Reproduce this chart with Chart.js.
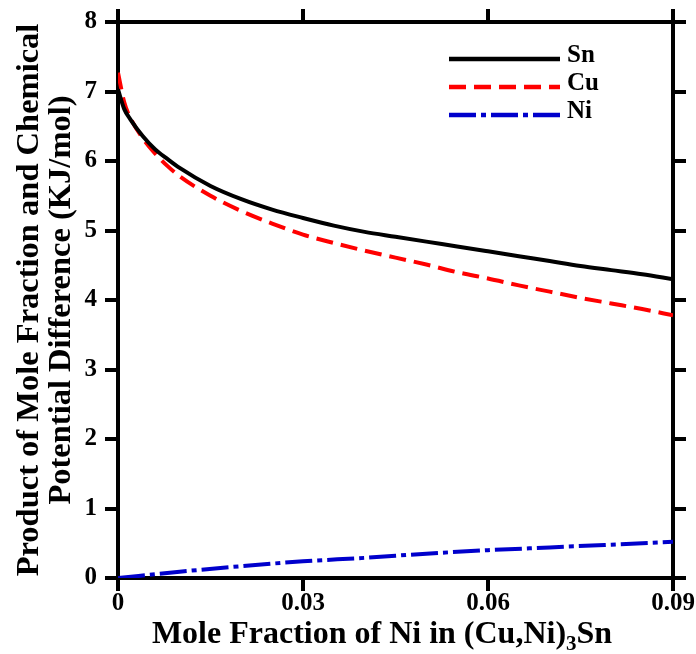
<!DOCTYPE html>
<html><head><meta charset="utf-8">
<script src="https://cdn.jsdelivr.net/npm/chart.js@4/dist/chart.umd.min.js"></script>
<style>html,body{margin:0;padding:0;background:#fff;}</style>
</head><body>
<canvas id="c" width="696" height="654" style="width:696px;height:654px;display:block"></canvas>
<script>
// ---- data ----
const xValues   = [0, 0.001, 0.002, 0.004, 0.006, 0.008, 0.01, 0.015, 0.02, 0.025, 0.03, 0.035, 0.04, 0.045, 0.05, 0.055, 0.06, 0.065, 0.07, 0.075, 0.08, 0.085, 0.09];
const snValues  = [7.03, 6.75, 6.60, 6.36, 6.17, 6.03, 5.90, 5.64, 5.45, 5.30, 5.18, 5.07, 4.98, 4.91, 4.84, 4.77, 4.70, 4.63, 4.56, 4.49, 4.43, 4.37, 4.30];
const cuValues  = [7.27, 6.85, 6.62, 6.33, 6.11, 5.93, 5.78, 5.50, 5.28, 5.10, 4.94, 4.82, 4.71, 4.61, 4.51, 4.40, 4.31, 4.21, 4.12, 4.03, 3.95, 3.87, 3.78];
const niXValues = [0, 0.01, 0.02, 0.03, 0.04, 0.05, 0.06, 0.07, 0.08, 0.09];
const niValues  = [0.00, 0.09, 0.17, 0.24, 0.29, 0.35, 0.40, 0.44, 0.48, 0.52];
const seriesNames = ['Sn', 'Cu', 'Ni'];
const xTickValues = [0, 0.03, 0.06, 0.09];
const xTickLabels = ['0', '0.03', '0.06', '0.09'];
const yTickValues = [0, 1, 2, 3, 4, 5, 6, 7, 8];
const yTickLabels = ['0', '1', '2', '3', '4', '5', '6', '7', '8'];
const yTitle = ['Product of Mole Fraction and Chemical', 'Potential Difference (KJ/mol)'];
const xTitleParts = ['Mole Fraction of Ni in (Cu,Ni)', '3', 'Sn'];

const FONT = "'Liberation Serif', 'Times New Roman', serif";
const pts = (xs, ys) => xs.map((x, i) => ({x: x, y: ys[i]}));

const legendPlugin = {
  id: 'innerLegend',
  afterDraw(chart) {
    const ctx = chart.ctx;
    const ys = [59, 87, 115];
    ctx.save();
    chart.data.datasets.forEach((ds, i) => {
      ctx.beginPath();
      ctx.strokeStyle = ds.borderColor;
      ctx.lineWidth = 4.5;
      ctx.lineCap = 'butt';
      ctx.setLineDash(ds.borderDash || []);
      ctx.moveTo(449, ys[i]);
      ctx.lineTo(560, ys[i]);
      ctx.stroke();
      ctx.setLineDash([]);
      ctx.fillStyle = '#000';
      ctx.font = "bold 25px " + FONT;
      ctx.textBaseline = 'middle';
      ctx.textAlign = 'left';
      ctx.fillText(ds.label, 567, ys[i] - 3);
    });
    ctx.restore();
  }
};

const xTitlePlugin = {
  id: 'xTitle',
  afterDraw(chart) {
    const ctx = chart.ctx;
    ctx.save();
    ctx.fillStyle = '#000';
    ctx.textBaseline = 'alphabetic';
    ctx.textAlign = 'left';
    const big = "bold 32px " + FONT, small = "bold 21px " + FONT;
    ctx.font = big; const w1 = ctx.measureText(xTitleParts[0]).width;
    ctx.font = small; const w2 = ctx.measureText(xTitleParts[1]).width;
    ctx.font = big; const w3 = ctx.measureText(xTitleParts[2]).width;
    const total = w1 + w2 + w3;
    let x = 382 - total / 2;
    const base = 643;
    ctx.font = big; ctx.fillText(xTitleParts[0], x, base); x += w1;
    ctx.font = small; ctx.fillText(xTitleParts[1], x, base + 7); x += w2;
    ctx.font = big; ctx.fillText(xTitleParts[2], x, base);
    ctx.restore();
  }
};

const tickFont = {family: FONT, size: 25, weight: 'bold', lineHeight: 1.0};
const gridOpts = {drawOnChartArea: false, drawTicks: true, tickLength: 13, tickWidth: 4, tickColor: '#000', color: '#000', lineWidth: 4};
const borderOpts = {display: true, color: '#000', width: 4};

new Chart(document.getElementById('c'), {
  type: 'line',
  data: {
    datasets: [
      {label: seriesNames[0], data: pts(xValues, snValues), borderColor: '#000000', borderWidth: 4, pointRadius: 0, fill: false, cubicInterpolationMode: 'monotone'},
      {label: seriesNames[1], data: pts(xValues, cuValues), borderColor: '#ff0000', borderWidth: 4, borderDash: [17, 8], pointRadius: 0, fill: false, cubicInterpolationMode: 'monotone'},
      {label: seriesNames[2], data: pts(niXValues, niValues), borderColor: '#0000cc', borderWidth: 4, borderDash: [27, 5, 5, 5], pointRadius: 0, fill: false, cubicInterpolationMode: 'monotone'}
    ]
  },
  options: {
    responsive: false,
    animation: false,
    devicePixelRatio: 1,
    layout: {padding: 0},
    plugins: {legend: {display: false}, tooltip: {enabled: false}, title: {display: false}},
    scales: {
      x: {
        type: 'linear', position: 'bottom', min: 0, max: 0.09,
        afterBuildTicks: s => { s.ticks = xTickValues.map(v => ({value: v})); },
        ticks: {callback: (v, i) => xTickLabels[i], font: tickFont, color: '#000', padding: 0, maxRotation: 0, autoSkip: false},
        grid: gridOpts, border: borderOpts,
        afterFit: s => { s.height = 76; }
      },
      x2: {
        type: 'linear', position: 'top', min: 0, max: 0.09,
        afterBuildTicks: s => { s.ticks = xTickValues.map(v => ({value: v})); },
        ticks: {display: false},
        grid: gridOpts, border: borderOpts,
        afterFit: s => { s.height = 22; }
      },
      y: {
        type: 'linear', position: 'left', min: 0, max: 8,
        afterBuildTicks: s => { s.ticks = yTickValues.map(v => ({value: v})); },
        ticks: {callback: (v, i) => yTickLabels[i], font: tickFont, color: '#000', padding: 8},
        grid: gridOpts, border: borderOpts,
        title: {display: true, text: yTitle, color: '#000', font: {family: FONT, size: 32.5, weight: 'bold', lineHeight: 32 / 32.5}, padding: {top: 14, bottom: 0}},
        afterFit: s => { s.width = 118; }
      },
      y2: {
        type: 'linear', position: 'right', min: 0, max: 8,
        afterBuildTicks: s => { s.ticks = yTickValues.map(v => ({value: v})); },
        ticks: {display: false},
        grid: gridOpts, border: borderOpts,
        afterFit: s => { s.width = 23; }
      }
    }
  },
  plugins: [legendPlugin, xTitlePlugin]
});
</script>
</body></html>
